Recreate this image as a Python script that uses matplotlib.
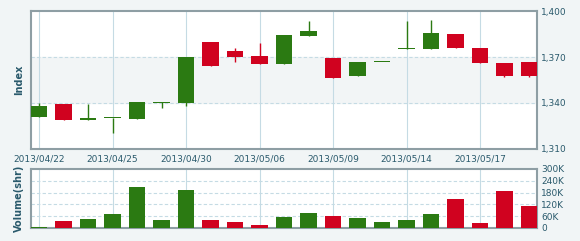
import matplotlib.pyplot as plt
import numpy as np

dates = ["2013/04/22", "2013/04/23", "2013/04/24", "2013/04/25", "2013/04/26",
         "2013/04/29", "2013/04/30", "2013/05/02", "2013/05/03", "2013/05/06",
         "2013/05/07", "2013/05/08", "2013/05/09", "2013/05/10", "2013/05/13",
         "2013/05/14", "2013/05/15", "2013/05/16", "2013/05/17", "2013/05/20",
         "2013/05/21"]
opens = [1331.1, 1339.3, 1328.9, 1330.2, 1329.7, 1340.2, 1340.2, 1379.6, 1374.1, 1370.4, 1365.4,
         1383.9, 1369.3, 1357.6, 1366.8, 1375.2, 1375.0, 1385.2, 1376.1, 1365.9, 1366.7]
closes = [1338.0, 1328.9, 1330.2, 1330.4, 1340.4, 1340.6, 1369.8, 1364.3, 1369.8, 1365.4, 1384.3,
          1387.2, 1356.3, 1366.9, 1367.0, 1375.6, 1385.4, 1376.1, 1365.9, 1357.6, 1357.6]
highs = [1339.8, 1339.3, 1339.3, 1330.5, 1340.4, 1340.6, 1369.8, 1379.6, 1376.1, 1379.3, 1384.3,
         1393.3, 1369.3, 1366.9, 1367.0, 1393.3, 1394.1, 1385.2, 1376.1, 1365.9, 1366.7]
lows = [1331.1, 1328.9, 1328.9, 1320.2, 1329.7, 1336.5, 1338.0, 1364.3, 1366.5, 1365.4, 1365.4,
        1383.9, 1356.3, 1357.6, 1366.8, 1375.2, 1375.0, 1376.1, 1365.9, 1357.2, 1357.2]
volumes = [5, 36, 47, 70, 208, 39, 195, 39, 31, 14, 56, 78, 61, 51, 31, 39, 73, 146, 24, 188, 112]

price_ticks = [1310, 1340, 1370, 1400]
vol_ticks = [0, 60, 120, 180, 240, 300]

green = "#2b7a12"
red = "#d0021f"
txt = "#2a5a6c"
grid = "#c5dbe4"
frame = "#8e9ea4"

x = np.arange(len(dates))
o = np.array(opens)
c = np.array(closes)
up = c >= o
colors = np.where(up, green, red)

fig = plt.figure(figsize=(5.8, 2.41), dpi=100, facecolor="#f1f5f6")
ax = fig.add_axes([0.0534, 0.382, 0.8726, 0.572])
axv = fig.add_axes([0.0534, 0.054, 0.8726, 0.245])

# price panel
ax.axhspan(1340, 1370, color="#f2f5f6", zorder=0)
for t in price_ticks[1:-1]:
    ax.axhline(t, color=grid, lw=0.8, ls=(0, (3, 2)), zorder=1)
ax.vlines(x, lows, highs, color=colors, lw=1, zorder=2)
body = np.maximum(np.abs(c - o), 0.6)
ax.bar(x, body, bottom=np.minimum(o, c), width=0.66, color=colors, zorder=3)
ax.set_xlim(-0.33, len(dates) - 0.67)
ax.set_ylim(1310, 1400)
ax.set_yticks(price_ticks)
ax.set_yticklabels([f"{t:,}" for t in price_ticks])
ax.yaxis.tick_right()
ax.set_ylabel("Index", fontsize=7, fontweight="bold", color=txt, labelpad=5)

# volume panel
for t in vol_ticks[1:-1]:
    axv.axhline(t * 1000, color=grid, lw=0.8, ls=(0, (3, 2)), zorder=1)
axv.bar(x, np.array(volumes) * 1000, width=0.68, color=colors, zorder=3)
axv.set_xlim(-0.33, len(dates) - 0.67)
axv.set_ylim(0, 300000)
axv.set_yticks([t * 1000 for t in vol_ticks])
axv.set_yticklabels(["0" if t == 0 else f"{t}K" for t in vol_ticks])
axv.yaxis.tick_right()
axv.set_ylabel("Volume(shr)", fontsize=7, fontweight="bold", color=txt, labelpad=5)

for a in (ax, axv):
    a.set_facecolor("white")
    a.set_xticks(x[::3])
    for xt in x[::3]:
        a.axvline(xt, color=grid, lw=0.8, zorder=1)
    for s in a.spines.values():
        s.set_color(frame)
        s.set_linewidth(1.5)
    a.tick_params(length=0, labelsize=6.5, labelcolor=txt, pad=3)

ax.set_xticklabels([dates[i] for i in x[::3]])
axv.set_xticklabels([])
ax.tick_params(axis="x", pad=4)

fig.savefig("out.png", dpi=100, facecolor=fig.get_facecolor())
